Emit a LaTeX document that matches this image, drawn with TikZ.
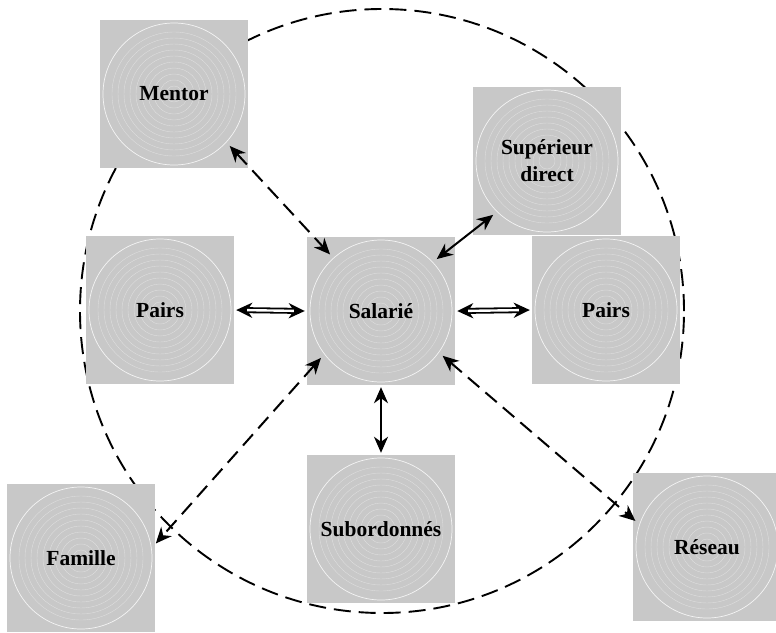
\documentclass[tikz,border=0pt]{standalone}
\usepackage{fontspec}
\setmainfont{Liberation Serif}
\usetikzlibrary{arrows.meta}
\definecolor{grisfond}{HTML}{C8C8C8}

\tikzset{
	carre/.style={fill=grisfond, minimum size=148pt, inner sep=0pt,
		path picture={
			\foreach \r in {8,14,...,64}
				\draw [white, opacity=0.4, line width=0.4pt] (path picture bounding box.center) circle (\r pt);
			\draw [white, opacity=0.8, line width=0.7pt] (path picture bounding box.center) circle (71pt);
		}},
	rond/.style={circle, minimum size=152pt, inner sep=0pt, align=center,
		font=\bfseries\fontsize{21.5}{27}\selectfont},
	lien/.style={line width=2pt, >={Stealth[length=16pt,width=14pt,inset=5pt]}, <->},
	tirets/.style={lien, dash pattern=on 15pt off 8pt},
	double lien/.style={line width=6pt, >={Stealth[length=16pt,width=15pt,inset=5pt]}, <->,
		postaction={draw, white, line width=2.4pt, arrows=-, shorten <=11pt, shorten >=11pt}}
}

\begin{document}
\begin{tikzpicture}[x=1pt,y=-1pt]
		\useasboundingbox (0,0) rectangle (776,632);
		% cercle du reseau
		\draw [line width=1.9pt, dash pattern=on 17pt off 8pt] (382,311) circle (302pt);
		%
		\foreach \nom/\x/\y in {mentor/174/94, sup/547/161, pairsg/160/310, salarie/381/311,
				pairsd/606/310, famille/81/558, sub/381/529, reseau/707/547}
			\node [carre] (c-\nom) at (\x,\y) {};
		\node [rond] (mentor) at (c-mentor) {Mentor};
		\node [rond] (sup) at (c-sup) {Supérieur\\direct};
		\node [rond] (pairsg) at (c-pairsg) {Pairs};
		\node [rond] (salarie) at (c-salarie) {Salarié};
		\node [rond] (pairsd) at (c-pairsd) {Pairs};
		\node [rond] (famille) at (c-famille) {Famille};
		\node [rond] (sub) at (c-sub) {Subordonnés};
		\node [rond] (reseau) at (c-reseau) {Réseau};
		%
		\draw [tirets] (mentor.-43) -- (salarie.132);
		\draw [lien] (salarie.43) -- (sup.225);
		\draw [double lien] (pairsg.0) -- (salarie.180);
		\draw [double lien] (salarie.0) -- (pairsd.180);
		\draw [lien] (salarie.-90) -- (sub.90);
		\draw [tirets] (salarie.218) -- (famille.11);
		\draw [tirets] (salarie.-36) -- (reseau.160);
	\end{tikzpicture}
\end{document}
